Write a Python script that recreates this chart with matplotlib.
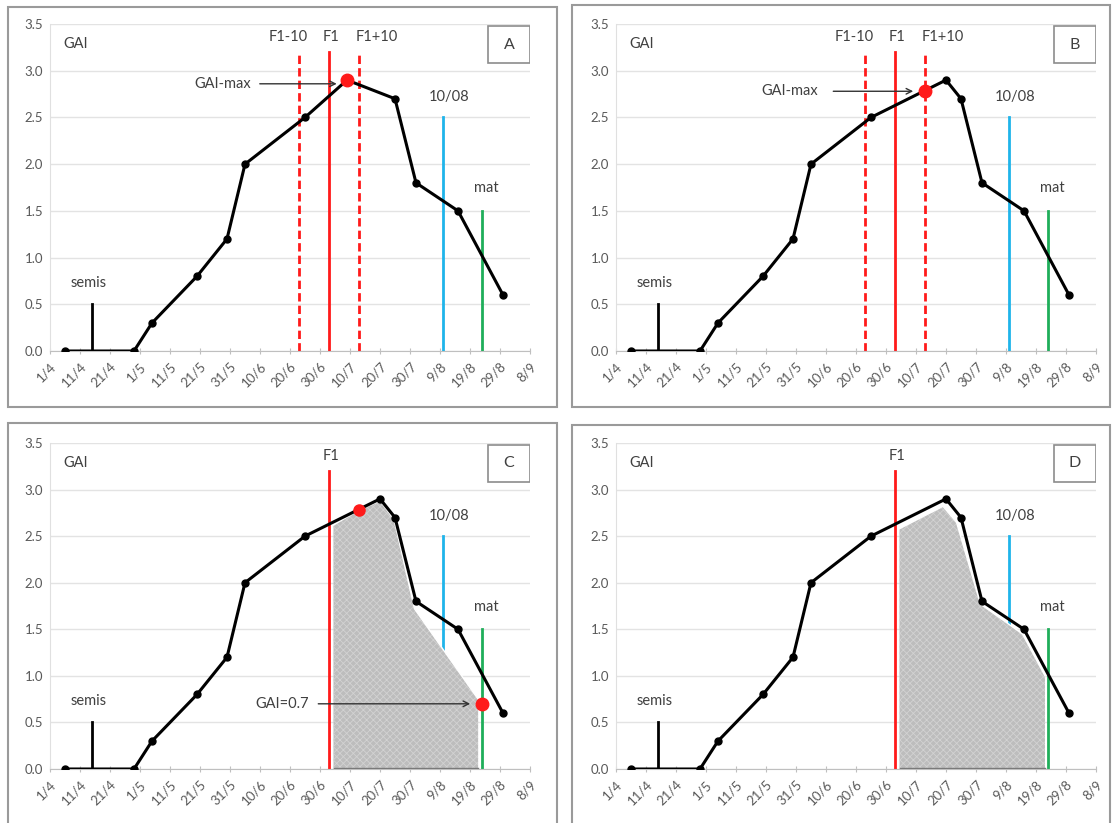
import matplotlib.pyplot as plt
from matplotlib.patches import Rectangle, Polygon

plt.rcParams['font.family'] = ['Lato', 'DejaVu Sans']
plt.rcParams['hatch.linewidth'] = 0.6

# x = days since 1 April
tick_days = [0, 10, 20, 30, 40, 50, 60, 70, 80, 90, 100, 110, 120, 130, 140, 150, 160]
tick_labels = ['1/4', '11/4', '21/4', '1/5', '11/5', '21/5', '31/5', '10/6', '20/6',
               '30/6', '10/7', '20/7', '30/7', '9/8', '19/8', '29/8', '8/9']
y_ticks = [0.0, 0.5, 1.0, 1.5, 2.0, 2.5, 3.0, 3.5]

# GAI curve, panel A (peak right after flowering)
days_a = [5, 28, 34, 49, 59, 65, 85, 99, 115, 122, 136, 151]
gai_a = [0, 0, 0.3, 0.8, 1.2, 2.0, 2.5, 2.9, 2.7, 1.8, 1.5, 0.6]
# GAI curve, panels B, C, D
days_b = [5, 28, 34, 49, 59, 65, 85, 110, 115, 122, 136, 151]
gai_b = [0, 0, 0.3, 0.8, 1.2, 2.0, 2.5, 2.9, 2.7, 1.8, 1.5, 0.6]

semis_day = 14
f1_day = 93
day_1008 = 131
mat_day = 144

# red markers
gaimax_a = (99, 2.9)
gaimax_b = (103, 2.78)
gai07_c = (144, 0.7)

# hatched areas
fill_c_x = [94.5, 94.5, 103, 110, 114.7, 121.5, 142.7, 142.7]
fill_c_y = [0, 2.62, 2.78, 2.88, 2.68, 1.72, 0.75, 0]
fill_d_x = [94.5, 94.5, 109, 113.5, 121.5, 135.5, 143, 143]
fill_d_y = [0, 2.58, 2.82, 2.65, 1.77, 1.45, 1.0, 0]

RED = '#ff1a1a'
BLUE = '#1fb4ea'
GREEN = '#1fae5a'
TXT = '#404040'
FS = 10.5


def base_panel(ax, days, gai, letter):
    ax.set_xlim(0, 160)
    ax.set_ylim(0, 3.5)
    ax.set_xticks(tick_days)
    ax.set_xticklabels(tick_labels, rotation=45, ha='right', va='top',
                       rotation_mode='anchor', fontsize=9.5, color='#595959')
    ax.set_yticks(y_ticks)
    ax.set_yticklabels(['%.1f' % v for v in y_ticks], fontsize=9.5, color='#595959')
    ax.tick_params(axis='x', direction='inout', length=5, color='#bfbfbf', pad=4)
    ax.tick_params(axis='y', length=0, pad=5)
    ax.grid(axis='y', color='#e3e3e3', lw=1)
    ax.set_axisbelow(True)
    for s in ['top', 'right']:
        ax.spines[s].set_visible(False)
    ax.spines['left'].set_color('#e0e0e0')
    ax.spines['bottom'].set_color('#bfbfbf')

    ax.plot(days, gai, color='black', lw=2.2, marker='o', ms=5, zorder=5)
    ax.plot([semis_day, semis_day], [0, 0.5], color='black', lw=2, zorder=4)
    ax.text(semis_day - 1, 0.73, 'semis', ha='center', va='center', fontsize=FS, color=TXT)
    ax.text(4.5, 3.29, 'GAI', ha='left', va='center', fontsize=FS, color=TXT)
    ax.plot([day_1008, day_1008], [0, 2.5], color=BLUE, lw=2, zorder=2)
    ax.text(day_1008 + 2, 2.72, '10/08', ha='center', va='center', fontsize=FS, color=TXT)
    ax.plot([mat_day, mat_day], [0, 1.5], color=GREEN, lw=2, zorder=2)
    ax.text(mat_day + 1.5, 1.74, 'mat', ha='center', va='center', fontsize=FS, color=TXT)
    ax.plot([f1_day, f1_day], [0, 3.2], color=RED, lw=2, zorder=2)
    ax.text(f1_day + 0.5, 3.36, 'F1', ha='center', va='center', fontsize=FS, color=TXT)
    ax.add_patch(Rectangle((146, 3.08), 14, 0.4, fill=False, ec='#8c8c8c', lw=1.2, zorder=6))
    ax.text(153, 3.28, letter, ha='center', va='center', fontsize=11.5, color=TXT, zorder=7)


def f1_window(ax):
    for d in (f1_day - 10, f1_day + 10):
        ax.plot([d, d], [0, 3.2], color=RED, lw=2, ls=(0, (3, 1.5)), zorder=2)
    ax.text(f1_day - 13.5, 3.36, 'F1-10', ha='center', va='center', fontsize=FS, color=TXT)
    ax.text(f1_day + 16, 3.36, 'F1+10', ha='center', va='center', fontsize=FS, color=TXT)


def hatch_area(ax, xs, ys):
    ax.add_patch(Polygon(list(zip(xs, ys)), closed=True, facecolor='#bdbdbd',
                         edgecolor='#d2d2d2', hatch='xxxxx', lw=0, zorder=3))
    # white rim along the top, thin dark line along the bottom
    ax.plot(xs[1:-1], ys[1:-1], color='white', lw=1, zorder=3.5)
    ax.plot([xs[0], xs[-1]], [0.01, 0.01], color='#7a7a7a', lw=1, zorder=3.6)


fig = plt.figure(figsize=(11.12, 8.23), dpi=100)
W, H = 1112, 823

# panel frames (pixels: x0, y0 top, x1, y1 bottom)
for x0, y0, x1, y1 in [(8, 7, 557, 407), (572, 5, 1110, 407),
                       (8, 423, 557, 830), (572, 425, 1110, 830)]:
    fig.patches.append(Rectangle((x0 / W, 1 - y1 / H), (x1 - x0) / W, (y1 - y0) / H,
                                 transform=fig.transFigure, fill=False,
                                 ec='#9a9a9a', lw=1.5))

axA = fig.add_axes([50 / W, 1 - 351 / H, 480 / W, 327 / H])
axB = fig.add_axes([616 / W, 1 - 351 / H, 480 / W, 327 / H])
axC = fig.add_axes([50 / W, 1 - 769 / H, 480 / W, 326 / H])
axD = fig.add_axes([616 / W, 1 - 769 / H, 480 / W, 326 / H])

# A
base_panel(axA, days_a, gai_a, 'A')
f1_window(axA)
axA.plot(*gaimax_a, 'o', color=RED, ms=9, zorder=6)
axA.annotate('', xy=(96.5, 2.86), xytext=(69, 2.86),
             arrowprops=dict(arrowstyle='->', color='#333333', lw=1))
axA.text(57.5, 2.86, 'GAI-max', ha='center', va='center', fontsize=FS, color=TXT)

# B
base_panel(axB, days_b, gai_b, 'B')
f1_window(axB)
axB.plot(*gaimax_b, 'o', color=RED, ms=9, zorder=6)
axB.annotate('', xy=(100, 2.78), xytext=(71.5, 2.78),
             arrowprops=dict(arrowstyle='->', color='#333333', lw=1))
axB.text(58, 2.78, 'GAI-max', ha='center', va='center', fontsize=FS, color=TXT)

# C
base_panel(axC, days_b, gai_b, 'C')
hatch_area(axC, fill_c_x, fill_c_y)
axC.plot(*gaimax_b, 'o', color=RED, ms=8, zorder=6)
axC.plot(*gai07_c, 'o', color=RED, ms=9, zorder=6)
axC.annotate('', xy=(141, 0.7), xytext=(88.5, 0.7),
             arrowprops=dict(arrowstyle='->', color='#333333', lw=1), zorder=6)
axC.text(77.5, 0.7, 'GAI=0.7', ha='center', va='center', fontsize=FS, color=TXT)

# D
base_panel(axD, days_b, gai_b, 'D')
hatch_area(axD, fill_d_x, fill_d_y)

fig.savefig('out.png', dpi=100)
